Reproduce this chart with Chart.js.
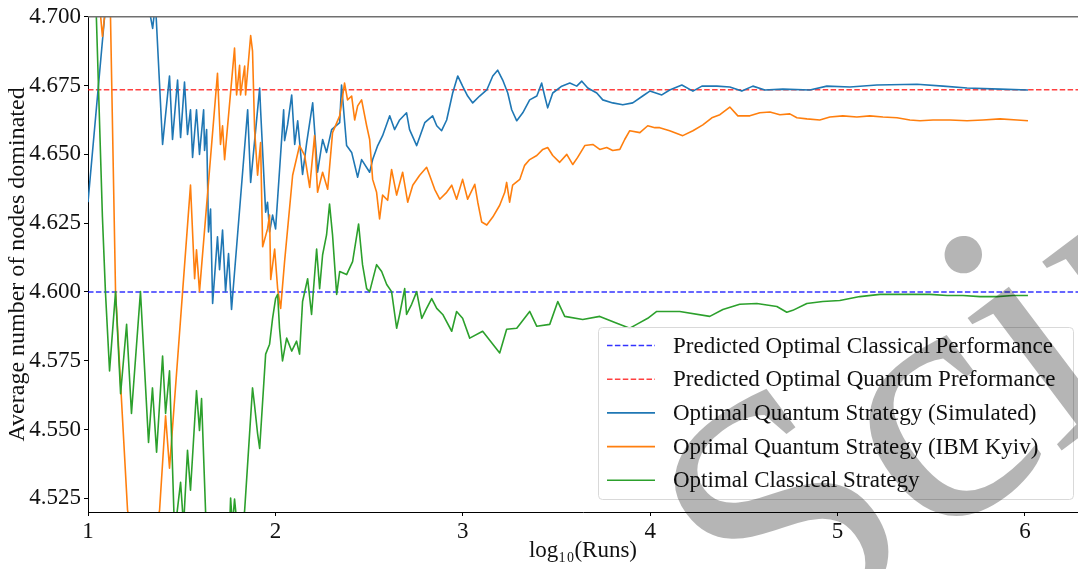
<!DOCTYPE html>
<html>
<head>
<meta charset="utf-8">
<script src="https://cdn.jsdelivr.net/npm/chart.js@4/dist/chart.umd.min.js"></script>
<style>
  html, body { margin: 0; padding: 0; background: #fff; }
  #wrap { width: 1078px; height: 569px; position: relative; }
</style>
</head>
<body>
<div id="wrap"><canvas id="c"></canvas></div>
<script>
// Axis limits and tick labels
const xLimits = [1, 6.283];
const yLimits = [4.52, 4.70];
const xTicks = [1, 2, 3, 4, 5, 6];
const yTicks = [4.525, 4.550, 4.575, 4.600, 4.625, 4.650, 4.675, 4.700];

// Predicted optimum levels
const predictedClassical = 4.600;
const predictedQuantum = 4.6735;

const seriesLabels = [
  'Predicted Optimal Classical Performance',
  'Predicted Optimal Quantum Preformance',
  'Optimal Quantum Strategy (Simulated)',
  'Optimal Quantum Strategy (IBM Kyiv)',
  'Optimal Classical Strategy'
];

// Running averages: [log10(runs), average nodes dominated]
const simulated = [
  [1.000,4.6326],[1.099,4.708],[1.222,4.712],[1.323,4.704],[1.345,4.6958],[1.360,4.705],[1.398,4.6536],
  [1.435,4.6785],[1.451,4.6554],[1.478,4.6770],[1.494,4.6561],[1.515,4.6763],[1.531,4.6572],[1.547,4.6662],
  [1.558,4.6489],[1.579,4.6662],[1.595,4.6500],[1.617,4.6662],[1.622,4.6514],[1.633,4.6590],[1.643,4.6218],
  [1.654,4.6301],[1.665,4.5958],[1.691,4.6200],[1.702,4.6081],[1.718,4.6225],[1.734,4.6001],[1.750,4.6139],
  [1.766,4.5936],[1.852,4.6662],[1.868,4.6398],[1.916,4.6741],[1.921,4.6662],[1.948,4.6290],[1.958,4.6326],
  [1.969,4.6218],[1.985,4.6279],[2.001,4.6229],[2.044,4.6662],[2.049,4.6550],[2.065,4.6607],[2.087,4.6716],
  [2.103,4.6536],[2.119,4.6622],[2.145,4.6427],[2.167,4.6543],[2.199,4.6687],[2.225,4.6435],[2.252,4.6554],
  [2.273,4.6507],[2.300,4.6590],[2.343,4.6615],[2.353,4.6752],[2.380,4.6532],[2.407,4.6507],[2.439,4.6417],
  [2.460,4.6481],[2.503,4.6435],[2.519,4.6481],[2.546,4.6532],[2.572,4.6568],[2.610,4.6640],[2.636,4.6590],
  [2.663,4.6625],[2.700,4.6651],[2.716,4.6590],[2.754,4.6532],[2.797,4.6615],[2.839,4.6640],[2.861,4.6604],
  [2.887,4.6586],[2.914,4.6625],[2.946,4.6723],[2.973,4.6785],[2.999,4.6748],[3.026,4.6712],[3.053,4.6687],
  [3.090,4.6712],[3.128,4.6734],[3.160,4.6785],[3.186,4.6806],[3.213,4.6770],[3.240,4.6723],[3.261,4.6662],
  [3.288,4.6622],[3.320,4.6651],[3.357,4.6698],[3.395,4.6712],[3.421,4.6759],[3.437,4.6712],[3.453,4.6669],
  [3.480,4.6723],[3.528,4.6748],[3.571,4.6759],[3.608,4.6748],[3.635,4.6766],[3.667,4.6741],[3.715,4.6723],
  [3.747,4.6698],[3.800,4.6687],[3.854,4.6680],[3.907,4.6687],[3.960,4.6712],[3.998,4.6730],[4.062,4.6716],
  [4.104,4.6734],[4.169,4.6752],[4.228,4.6730],[4.276,4.6748],[4.356,4.6748],[4.425,4.6745],[4.489,4.6730],
  [4.548,4.6748],[4.612,4.6734],[4.708,4.6737],[4.852,4.6734],[4.943,4.6748],[5.066,4.6745],[5.210,4.6752],
  [5.424,4.6755],[5.563,4.6748],[5.691,4.6741],[5.867,4.6737],[6.016,4.6734]
];

const ibmKyiv = [
  [1.000,4.74],[1.061,4.705],[1.077,4.6929],[1.093,4.703],[1.120,4.7001],[1.147,4.6001],[1.211,4.5207],
  [1.296,4.49],[1.382,4.5207],[1.414,4.5550],[1.435,4.5359],[1.547,4.6388],[1.569,4.6048],[1.579,4.6153],
  [1.595,4.6001],[1.691,4.6795],[1.707,4.6536],[1.718,4.6604],[1.729,4.6481],[1.782,4.6886],[1.793,4.6716],
  [1.809,4.6824],[1.814,4.6716],[1.836,4.6821],[1.841,4.6716],[1.868,4.6932],[1.878,4.6875],[1.889,4.6590],
  [1.905,4.6424],[1.921,4.6543],[1.932,4.6164],[1.958,4.6229],[1.969,4.6279],[1.975,4.6045],[1.996,4.6156],
  [2.012,4.6012],[2.028,4.5940],[2.049,4.6110],[2.092,4.6424],[2.129,4.6532],[2.156,4.6496],[2.183,4.6380],
  [2.209,4.6568],[2.225,4.6362],[2.252,4.6435],[2.279,4.6373],[2.305,4.6579],[2.343,4.6640],[2.369,4.6759],
  [2.385,4.6698],[2.407,4.6712],[2.423,4.6625],[2.439,4.6676],[2.460,4.6698],[2.487,4.6604],[2.503,4.6554],
  [2.519,4.6409],[2.540,4.6362],[2.556,4.6265],[2.572,4.6352],[2.599,4.6333],[2.620,4.6445],[2.647,4.6352],
  [2.679,4.6435],[2.706,4.6326],[2.733,4.6388],[2.770,4.6424],[2.807,4.6453],[2.823,4.6424],[2.850,4.6373],
  [2.877,4.6337],[2.914,4.6362],[2.941,4.6388],[2.967,4.6337],[2.999,4.6409],[3.026,4.6337],[3.064,4.6391],
  [3.080,4.6326],[3.101,4.6254],[3.128,4.6243],[3.160,4.6272],[3.197,4.6315],[3.224,4.6362],[3.234,4.6398],
  [3.250,4.6326],[3.266,4.6388],[3.304,4.6409],[3.330,4.6460],[3.357,4.6481],[3.395,4.6496],[3.427,4.6518],
  [3.453,4.6525],[3.480,4.6496],[3.517,4.6471],[3.555,4.6500],[3.587,4.6463],[3.613,4.6489],[3.651,4.6532],
  [3.694,4.6536],[3.731,4.6518],[3.768,4.6525],[3.800,4.6514],[3.838,4.6518],[3.864,4.6554],[3.891,4.6586],
  [3.945,4.6579],[3.987,4.6604],[4.025,4.6597],[4.051,4.6597],[4.104,4.6586],[4.174,4.6568],[4.228,4.6586],
  [4.281,4.6607],[4.329,4.6633],[4.372,4.6644],[4.425,4.6672],[4.468,4.6640],[4.532,4.6640],[4.585,4.6651],
  [4.639,4.6654],[4.692,4.6644],[4.745,4.6647],[4.783,4.6633],[4.836,4.6629],[4.905,4.6625],[4.959,4.6636],
  [5.028,4.6640],[5.103,4.6636],[5.172,4.6640],[5.242,4.6636],[5.317,4.6633],[5.386,4.6625],[5.440,4.6622],
  [5.509,4.6625],[5.600,4.6625],[5.691,4.6622],[5.776,4.6625],[5.867,4.6629],[5.958,4.6625],[6.016,4.6622]
];

const classical = [
  [1.000,4.80],[1.077,4.6272],[1.093,4.6001],[1.115,4.5713],[1.147,4.6001],[1.174,4.5630],[1.206,4.5882],
  [1.232,4.5558],[1.280,4.6001],[1.323,4.5453],[1.344,4.5651],[1.366,4.5417],[1.398,4.5767],[1.414,4.5558],
  [1.435,4.5713],[1.462,4.512],[1.494,4.5308],[1.510,4.515],[1.531,4.5424],[1.547,4.5279],[1.579,4.5641],
  [1.595,4.5496],[1.606,4.5612],[1.638,4.50],[1.702,4.49],[1.756,4.515],[1.761,4.5251],[1.771,4.515],
  [1.782,4.5247],[1.793,4.517],[1.809,4.505],[1.836,4.5207],[1.878,4.5651],[1.889,4.5587],[1.905,4.5485],
  [1.916,4.5431],[1.948,4.5774],[1.969,4.5810],[1.985,4.5904],[2.001,4.5976],[2.012,4.5991],[2.022,4.5868],
  [2.038,4.5749],[2.060,4.5832],[2.087,4.5785],[2.113,4.5821],[2.129,4.5774],[2.145,4.5965],[2.172,4.6048],
  [2.193,4.5918],[2.220,4.6156],[2.236,4.6012],[2.252,4.6135],[2.273,4.6207],[2.289,4.6319],[2.305,4.6207],
  [2.327,4.5991],[2.343,4.6074],[2.380,4.6063],[2.412,4.6110],[2.444,4.6247],[2.465,4.6099],[2.487,4.6012],
  [2.503,4.6001],[2.540,4.6099],[2.567,4.6074],[2.594,4.6027],[2.620,4.6001],[2.647,4.5868],[2.663,4.5918],
  [2.690,4.6012],[2.700,4.5918],[2.727,4.5955],[2.754,4.6001],[2.781,4.5904],[2.807,4.5940],[2.834,4.5976],
  [2.861,4.5940],[2.893,4.5918],[2.941,4.5857],[2.967,4.5929],[2.999,4.5904],[3.037,4.5832],[3.106,4.5857],
  [3.197,4.5778],[3.234,4.5864],[3.288,4.5868],[3.357,4.5929],[3.395,4.5875],[3.464,4.5882],[3.507,4.5965],
  [3.544,4.5911],[3.640,4.5900],[3.731,4.5911],[3.822,4.5886],[3.891,4.5868],[3.928,4.5882],[3.987,4.5904],
  [4.035,4.5929],[4.158,4.5929],[4.318,4.5911],[4.388,4.5936],[4.478,4.5955],[4.569,4.5958],[4.676,4.5947],
  [4.729,4.5926],[4.761,4.5933],[4.836,4.5958],[4.921,4.5965],[5.012,4.5969],[5.119,4.5983],[5.226,4.5991],
  [5.317,4.5991],[5.402,4.5991],[5.493,4.5991],[5.584,4.5987],[5.669,4.5987],[5.760,4.5983],[5.851,4.5983],
  [5.936,4.5987],[6.016,4.5987]
];

const SERIF = '"Liberation Serif", "Times New Roman", serif';
const toPoints = arr => arr.map(([x, y]) => ({ x, y }));
const hline = v => [{ x: xLimits[0], y: v }, { x: xLimits[1], y: v }];

const datasets = [
  { label: seriesLabels[0], data: hline(predictedClassical), borderColor: 'rgba(0,0,255,0.8)',
    borderWidth: 1.5, borderDash: [5.5, 2.4], order: 5 },
  { label: seriesLabels[1], data: hline(predictedQuantum), borderColor: 'rgba(255,0,0,0.75)',
    borderWidth: 1.5, borderDash: [5.5, 2.4], order: 4 },
  { label: seriesLabels[2], data: toPoints(simulated), borderColor: '#1f77b4', borderWidth: 1.6, order: 3 },
  { label: seriesLabels[3], data: toPoints(ibmKyiv), borderColor: '#ff7f0e', borderWidth: 1.6, order: 2 },
  { label: seriesLabels[4], data: toPoints(classical), borderColor: '#2ca02c', borderWidth: 1.6, order: 1 }
];
datasets.forEach(d => { d.pointRadius = 0; d.fill = false; d.tension = 0; d.borderJoinStyle = 'round'; });

// Top spine, boxed legend and the grey stamp laid over the figure
const decorations = {
  id: 'decorations',
  afterDatasetsDraw(chart) {
    const { ctx, chartArea: a } = chart;
    ctx.save();
    ctx.strokeStyle = '#707070';
    ctx.lineWidth = 1.6;
    ctx.beginPath();
    ctx.moveTo(a.left, a.top);
    ctx.lineTo(a.right, a.top);
    ctx.stroke();

    // legend box
    const bx = 598.5, by = 327.5, bw = 475, bh = 172, r = 4;
    ctx.lineWidth = 1;
    ctx.beginPath();
    ctx.roundRect(bx, by, bw, bh, r);
    ctx.fillStyle = 'rgba(255,255,255,0.85)';
    ctx.fill();
    ctx.strokeStyle = '#d9d9d9';
    ctx.stroke();

    ctx.font = '23px ' + SERIF;
    ctx.textBaseline = 'middle';
    chart.data.datasets.forEach((ds, i) => {
      const y = 345.5 + i * 33.7;
      ctx.beginPath();
      ctx.setLineDash(ds.borderDash || []);
      ctx.strokeStyle = ds.borderColor;
      ctx.lineWidth = ds.borderWidth;
      ctx.moveTo(607, y);
      ctx.lineTo(655, y);
      ctx.stroke();
      ctx.setLineDash([]);
      ctx.fillStyle = '#111';
      ctx.fillText(ds.label, 673, y + 1);
    });
    ctx.restore();
  },
  afterDraw(chart) {
    const { ctx } = chart;
    ctx.save();
    ctx.translate(773, 668);
    ctx.rotate(-37 * Math.PI / 180);
    ctx.font = '354px ' + SERIF;
    ctx.fillStyle = 'rgba(0,0,0,0.29)';
    ctx.textBaseline = 'alphabetic';
    ctx.fillText('Scir', 0, 0);
    ctx.restore();
  }
};

new Chart(document.getElementById('c'), {
  type: 'line',
  data: { datasets },
  options: {
    responsive: true,
    maintainAspectRatio: false,
    animation: false,
    devicePixelRatio: 1,
    layout: { padding: { top: 13, right: 0, left: 0, bottom: 0 } },
    plugins: { legend: { display: false }, tooltip: { enabled: false } },
    scales: {
      x: {
        type: 'linear',
        min: xLimits[0],
        max: xLimits[1],
        afterBuildTicks: s => { s.ticks = xTicks.map(v => ({ value: v })); },
        afterFit: s => { s.height = 57; },
        ticks: { color: '#111', font: { family: SERIF, size: 23 }, padding: 2,
                 callback: v => String(v), maxRotation: 0, autoSkip: false },
        grid: { drawOnChartArea: false, drawTicks: true, tickLength: 4, color: '#000' },
        border: { display: true, color: '#000', width: 1 },
        title: { display: true, text: 'log₁₀(Runs)', color: '#111',
                 font: { family: SERIF, size: 23 }, padding: { top: 0, bottom: 4 } }
      },
      y: {
        type: 'linear',
        min: yLimits[0],
        max: yLimits[1],
        afterBuildTicks: s => { s.ticks = yTicks.map(v => ({ value: v })); },
        afterFit: s => { s.width = 88; },
        ticks: { color: '#111', font: { family: SERIF, size: 23 }, padding: 3,
                 callback: v => Number(v).toFixed(3), autoSkip: false },
        grid: { drawOnChartArea: false, drawTicks: true, tickLength: 4, color: '#000' },
        border: { display: true, color: '#000', width: 1 },
        title: { display: true, text: 'Average number of nodes dominated', color: '#111',
                 font: { family: SERIF, size: 24 }, padding: { top: 3, bottom: 0 } }
      }
    }
  },
  plugins: [decorations]
});
</script>
</body>
</html>
